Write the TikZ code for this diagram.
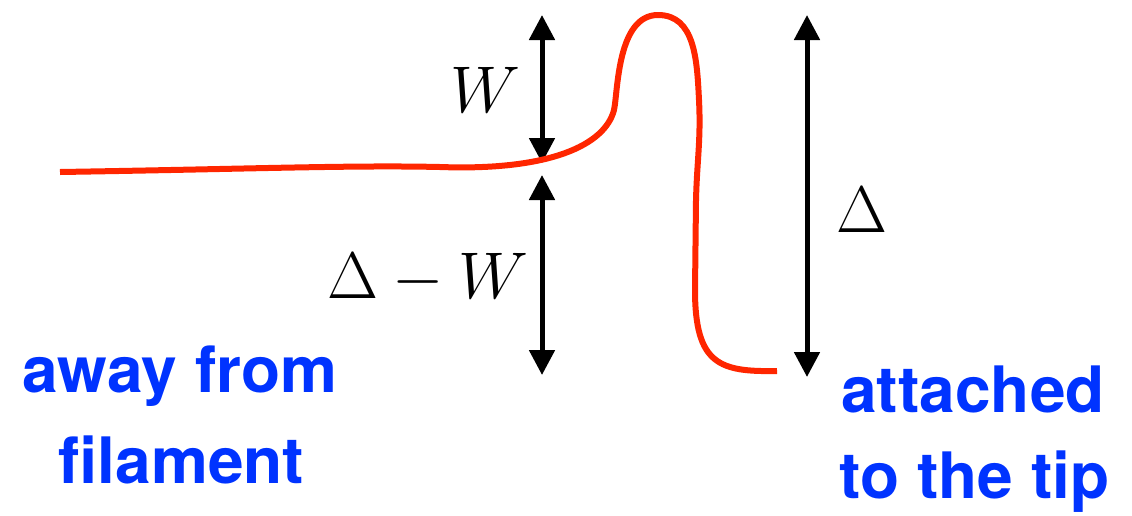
\RequirePackage{fix-cm}
\documentclass[tikz,border=0pt]{standalone}
\usepackage{fontspec}
\newfontfamily\hv{TeX Gyre Heros}
\usetikzlibrary{arrows.meta}
\definecolor{curvered}{RGB}{255,38,0}
\definecolor{labelblue}{RGB}{0,51,255}
\tikzset{
  dimarrow/.style={line width=5pt, {Triangle[width=25pt,length=25pt]}-{Triangle[width=25pt,length=25pt]}},
  bluelabel/.style={inner sep=0pt, anchor=base, text=labelblue, font=\hv\bfseries\fontsize{64}{70}\selectfont},
  mathlabel/.style={inner sep=0pt, anchor=base, font=\fontsize{66}{76}\selectfont},
  filament/.style={curvered, line width=6pt, line cap=butt}
}
\begin{document}
\begin{tikzpicture}[x=1pt,y=-1pt]
\useasboundingbox (0,0) rectangle (1132,515);
% coordinates for dimension arrows
\coordinate (wtop) at (542,15);
\coordinate (wbot) at (542,163);
\coordinate (dwtop) at (542,175);
\coordinate (dwbot) at (542,375);
\coordinate (dtop) at (807,15);
\coordinate (dbot) at (807,377);
\draw[dimarrow] (wtop) -- (wbot);
\draw[dimarrow] (dwtop) -- (dwbot);
\draw[dimarrow] (dtop) -- (dbot);
% filament profile
\draw[filament] (60,172) .. controls (250,169) and (350,165) .. (440,167)
  .. controls (550,171) and (605,145) .. (614,110)
  .. controls (618,92) and (617,15) .. (658,15)
  .. controls (695,15) and (697,60) .. (699,100)
  .. controls (701,140) and (697,160) .. (696,200)
  -- (695,290)
  .. controls (695,365) and (720,372) .. (777,371);
% math labels
\node[mathlabel] (lw) at (485,112) {$W$};
\node[mathlabel] (ldw) at (428,298) {$\Delta - W$};
\node[mathlabel] (ld) at (862,232) {$\Delta$};
% text labels
\node[bluelabel] (away1) at (180,392) {away from};
\node[bluelabel] (away2) at (181.5,483) {filament};
\node[bluelabel] (att1) at (973,412) {attached};
\node[bluelabel] (att2) at (974.5,498) {to the tip};
\end{tikzpicture}
\end{document}
